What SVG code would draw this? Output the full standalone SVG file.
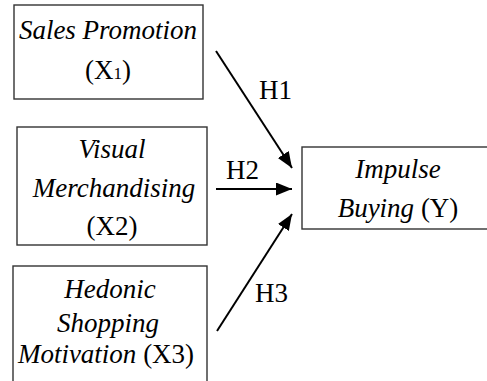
<svg xmlns="http://www.w3.org/2000/svg" width="487" height="381" viewBox="0 0 487 381">
<style>
.box{fill:#fff;stroke:#333;stroke-width:1.4}
text{font-family:'Liberation Serif','Times New Roman',Times,'DejaVu Serif',serif;font-size:27px;fill:#000;text-anchor:middle}
.i{font-style:italic}
.lbl{text-anchor:start}
.con{stroke:#000;stroke-width:2;fill:none;marker-end:url(#ah)}
</style>
<defs>
<marker id="ah" markerUnits="userSpaceOnUse" markerWidth="17" markerHeight="14" refX="16" refY="6.5" orient="auto">
<path d="M0,0 L16,6.5 L0,13 z" fill="#000"/>
</marker>
</defs>
<rect width="487" height="381" fill="#fff"/>
<g id="x1">
<rect class="box" x="14" y="5" width="189" height="94"/>
<text x="108" y="39" class="i">Sales Promotion</text>
<text x="108" y="79">(X<tspan font-size="17">1</tspan>)</text>
</g>
<g id="x2">
<rect class="box" x="17" y="127" width="190" height="118"/>
<text x="112" y="158" class="i">Visual</text>
<text x="114" y="197" class="i">Merchandising</text>
<text x="112" y="235">(X2)</text>
</g>
<g id="x3">
<rect class="box" x="13" y="266" width="194" height="130"/>
<text x="110" y="298" class="i">Hedonic</text>
<text x="108" y="332" class="i">Shopping</text>
<text x="106" y="363"><tspan class="i">Motivation</tspan> (X3)</text>
</g>
<g id="y">
<rect class="box" x="302" y="147" width="195" height="82"/>
<text x="398" y="178" class="i">Impulse</text>
<text x="398" y="217"><tspan class="i">Buying</tspan> (Y)</text>
</g>
<g id="connectors">
<line class="con" x1="216" y1="51" x2="292" y2="168"/>
<line class="con" x1="216" y1="189" x2="292" y2="189"/>
<line class="con" x1="217" y1="331" x2="292" y2="214"/>
<text class="lbl" x="259" y="99">H1</text>
<text class="lbl" x="226" y="179">H2</text>
<text class="lbl" x="255" y="302">H3</text>
</g>
</svg>
